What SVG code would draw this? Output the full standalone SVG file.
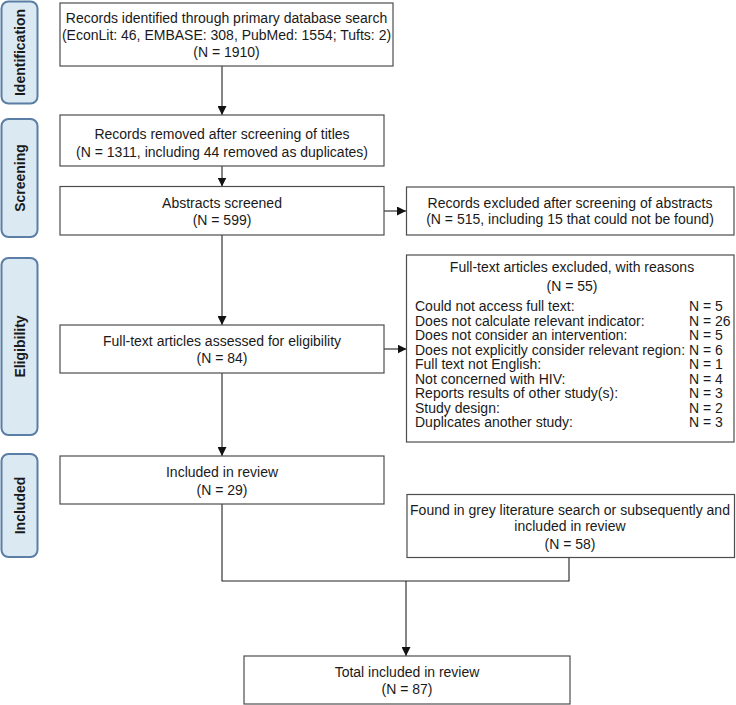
<svg xmlns="http://www.w3.org/2000/svg" width="736" height="705" viewBox="0 0 736 705">
<defs>
<style>
.box{fill:#fff;stroke:#4d4d4d;stroke-width:1.2}
.side{fill:#dbe9f3;stroke:#5a7ea6;stroke-width:2}
.t{font-family:"Liberation Sans",Arial,Helvetica,sans-serif;font-size:14px;fill:#1a1a1a}
.c{text-anchor:middle}
.s{font-family:"Liberation Sans",Arial,Helvetica,sans-serif;font-size:14px;font-weight:bold;fill:#1a1a1a;text-anchor:middle}
.ln{fill:none;stroke:#222;stroke-width:1.1}
</style>
<marker id="ah" markerUnits="userSpaceOnUse" markerWidth="9" markerHeight="9" refX="9" refY="4.5" orient="auto">
<path d="M0,0 L9,4.5 L0,9 z" fill="#111"/>
</marker>
</defs>
<rect width="736" height="705" fill="#fff"/>

<g id="phase-identification">
<rect class="side" x="1.5" y="1.5" width="36" height="102" rx="7"/>
<text class="s" transform="translate(24.5,52.5) rotate(-90)">Identification</text>
</g>
<g id="phase-screening">
<rect class="side" x="1.5" y="119" width="36" height="118" rx="7"/>
<text class="s" transform="translate(24.5,178) rotate(-90)">Screening</text>
</g>
<g id="phase-eligibility">
<rect class="side" x="1.5" y="258" width="36" height="177" rx="7"/>
<text class="s" transform="translate(24.5,346.5) rotate(-90)">Eligibility</text>
</g>
<g id="phase-included">
<rect class="side" x="1.5" y="454" width="36" height="103" rx="7"/>
<text class="s" transform="translate(24.5,505.5) rotate(-90)">Included</text>
</g>

<g id="connectors">
<path class="ln" d="M222,66 V115" marker-end="url(#ah)"/>
<path class="ln" d="M222,166 V186.5" marker-end="url(#ah)"/>
<path class="ln" d="M384,211 H406" marker-end="url(#ah)"/>
<path class="ln" d="M222,235 V325" marker-end="url(#ah)"/>
<path class="ln" d="M384,349 H406.5" marker-end="url(#ah)"/>
<path class="ln" d="M222,373 V456" marker-end="url(#ah)"/>
<path class="ln" d="M222,504 V581 H569 V557.5"/>
<path class="ln" d="M406,581 V656" marker-end="url(#ah)"/>
</g>

<g id="n-identified">
<rect class="box" x="60" y="3" width="333" height="63"/>
<text class="t c" x="226.5" y="23">Records identified through primary database search</text>
<text class="t c" x="226.5" y="40">(EconLit: 46, EMBASE: 308, PubMed: 1554; Tufts: 2)</text>
<text class="t c" x="226.5" y="57">(N = 1910)</text>
</g>
<g id="n-titles">
<rect class="box" x="60" y="115" width="324" height="51"/>
<text class="t c" x="222" y="139">Records removed after screening of titles</text>
<text class="t c" x="222" y="157">(N = 1311, including 44 removed as duplicates)</text>
</g>
<g id="n-abstracts">
<rect class="box" x="60" y="186.5" width="324" height="48.5"/>
<text class="t c" x="222" y="208">Abstracts screened</text>
<text class="t c" x="222" y="225">(N = 599)</text>
</g>
<g id="n-abs-excluded">
<rect class="box" x="406.5" y="187" width="327.5" height="48"/>
<text class="t c" x="570" y="208">Records excluded after screening of abstracts</text>
<text class="t c" x="570" y="224">(N = 515, including 15 that could not be found)</text>
</g>
<g id="n-fulltext">
<rect class="box" x="60" y="325" width="324" height="48"/>
<text class="t c" x="222" y="346">Full-text articles assessed for eligibility</text>
<text class="t c" x="222" y="363">(N = 84)</text>
</g>
<g id="n-ft-excluded">
<rect class="box" x="406.5" y="255" width="327.5" height="187"/>
<text class="t c" x="572" y="272">Full-text articles excluded, with reasons</text>
<text class="t c" x="572" y="291">(N = 55)</text>
<text class="t" x="415" y="311">Could not access full text:</text>
<text class="t" x="415" y="325.5">Does not calculate relevant indicator:</text>
<text class="t" x="415" y="340">Does not consider an intervention:</text>
<text class="t" x="415" y="354.5">Does not explicitly consider relevant region:</text>
<text class="t" x="415" y="369">Full text not English:</text>
<text class="t" x="415" y="383.5">Not concerned with HIV:</text>
<text class="t" x="415" y="398">Reports results of other study(s):</text>
<text class="t" x="415" y="412.5">Study design:</text>
<text class="t" x="415" y="427">Duplicates another study:</text>
<text class="t" x="689" y="311">N = 5</text>
<text class="t" x="689" y="325.5">N = 26</text>
<text class="t" x="689" y="340">N = 5</text>
<text class="t" x="689" y="354.5">N = 6</text>
<text class="t" x="689" y="369">N = 1</text>
<text class="t" x="689" y="383.5">N = 4</text>
<text class="t" x="689" y="398">N = 3</text>
<text class="t" x="689" y="412.5">N = 2</text>
<text class="t" x="689" y="427">N = 3</text>
</g>
<g id="n-included">
<rect class="box" x="60" y="456" width="324" height="48"/>
<text class="t c" x="222" y="477">Included in review</text>
<text class="t c" x="222" y="495">(N = 29)</text>
</g>
<g id="n-grey">
<rect class="box" x="407" y="494.5" width="327.5" height="63"/>
<text class="t c" x="570" y="515">Found in grey literature search or subsequently and</text>
<text class="t c" x="570" y="531">included in review</text>
<text class="t c" x="570" y="549">(N = 58)</text>
</g>
<g id="n-total">
<rect class="box" x="244" y="656" width="326" height="48"/>
<text class="t c" x="407" y="677">Total included in review</text>
<text class="t c" x="407" y="694">(N = 87)</text>
</g>
</svg>
